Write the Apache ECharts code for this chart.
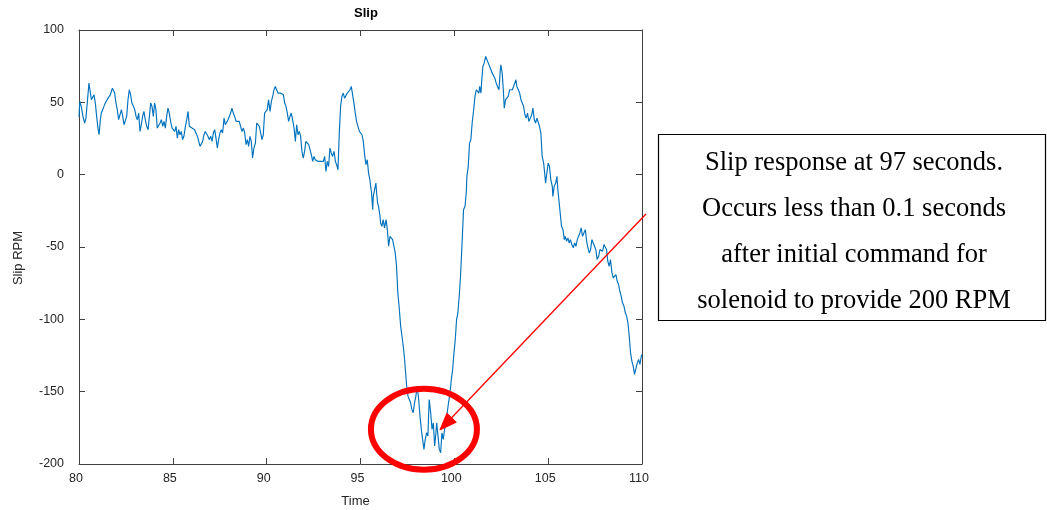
<!DOCTYPE html>
<html>
<head>
<meta charset="utf-8">
<title>Slip</title>
<script src="https://cdn.jsdelivr.net/npm/echarts@6/dist/echarts.min.js"></script>
<style>
  html, body { margin: 0; padding: 0; background: #ffffff; }
  #chart { width: 1047px; height: 510px; }
</style>
</head>
<body>
<div id="chart"></div>
<script>
// Slip speed trace (time in seconds, slip in RPM)
const timeSec = [
  80.00, 80.04, 80.12, 80.21, 80.30, 80.37, 80.44, 80.53, 80.59, 80.66, 80.73, 80.80, 80.87, 80.94,
  81.01, 81.07, 81.14, 81.19, 81.26, 81.33, 81.40, 81.47, 81.55, 81.62, 81.67, 81.72, 81.78, 81.83, 81.90, 81.97,
  82.04, 82.11, 82.18, 82.26, 82.33, 82.40, 82.47, 82.54, 82.61, 82.68, 82.75, 82.82, 82.90, 82.97,
  83.04, 83.11, 83.18, 83.25, 83.32, 83.39, 83.46, 83.53, 83.61, 83.68, 83.75, 83.82, 83.89, 83.96,
  84.03, 84.10, 84.17, 84.25, 84.32, 84.39, 84.46, 84.53, 84.60, 84.67, 84.74, 84.81, 84.88, 84.96,
  85.03, 85.10, 85.17, 85.24, 85.31, 85.38, 85.45, 85.52, 85.59, 85.67, 85.74, 85.81, 85.88, 85.95,
  86.02, 86.09, 86.16, 86.23, 86.31, 86.38, 86.45, 86.52, 86.59, 86.66, 86.73, 86.80, 86.87, 86.94,
  87.02, 87.09, 87.16, 87.23, 87.30, 87.37, 87.44, 87.51, 87.58, 87.65, 87.73, 87.80, 87.87, 87.94,
  88.01, 88.08, 88.15, 88.22, 88.29, 88.37, 88.44, 88.54, 88.61, 88.68, 88.76, 88.83, 88.90, 88.97,
  89.04, 89.11, 89.18, 89.25, 89.32, 89.40, 89.47, 89.54, 89.61, 89.68, 89.75, 89.82, 89.89, 89.96,
  90.03, 90.10, 90.18, 90.25, 90.32, 90.39, 90.46, 90.53, 90.60, 90.67, 90.74, 90.82, 90.89, 90.96,
  91.03, 91.10, 91.17, 91.24, 91.31, 91.38, 91.46, 91.53, 91.60, 91.67, 91.74, 91.81, 91.88, 91.95,
  92.02, 92.09, 92.17, 92.24, 92.31, 92.38, 92.45, 92.52, 92.59, 92.66, 92.73, 92.80, 92.88, 92.95,
  93.02, 93.09, 93.16, 93.23, 93.30, 93.37, 93.44, 93.51, 93.59, 93.66, 93.73, 93.80, 93.87, 93.94,
  94.01, 94.08, 94.15, 94.23, 94.30, 94.37, 94.44, 94.51, 94.58, 94.65, 94.72, 94.79, 94.87, 94.94,
  95.01, 95.08, 95.15, 95.22, 95.29, 95.36, 95.43, 95.50, 95.54, 95.59, 95.65, 95.68, 95.75, 95.82, 95.86, 95.91, 95.96,
  96.04, 96.07, 96.14, 96.21, 96.28, 96.36, 96.43, 96.50, 96.57, 96.64, 96.71, 96.78, 96.85, 96.92, 96.99,
  97.07, 97.14, 97.21, 97.28, 97.35, 97.39, 97.46, 97.53, 97.60, 97.67, 97.74, 97.81, 97.88, 97.95,
  98.02, 98.10, 98.17, 98.24, 98.31, 98.38, 98.45, 98.52, 98.59, 98.66, 98.74, 98.81, 98.88, 98.95,
  99.02, 99.06, 99.13, 99.20, 99.27, 99.34, 99.41, 99.48, 99.55, 99.62, 99.69, 99.77, 99.84, 99.91, 99.98,
  100.05, 100.12, 100.19, 100.26, 100.33, 100.42, 100.49, 100.57, 100.64, 100.67, 100.74, 100.81, 100.88, 100.95,
  101.03, 101.10, 101.17, 101.24, 101.31, 101.35, 101.42, 101.45, 101.52, 101.59, 101.67, 101.74, 101.81, 101.88, 101.95,
  102.02, 102.09, 102.16, 102.23, 102.30, 102.38, 102.45, 102.48, 102.55, 102.62, 102.66, 102.73, 102.80, 102.87, 102.95,
  103.02, 103.09, 103.16, 103.23, 103.28, 103.33, 103.41, 103.48, 103.55, 103.62, 103.69, 103.76, 103.83, 103.90, 103.97,
  104.05, 104.12, 104.19, 104.26, 104.33, 104.40, 104.47, 104.54, 104.61, 104.68, 104.76, 104.83, 104.86, 104.93,
  105.00, 105.07, 105.14, 105.22, 105.25, 105.32, 105.40, 105.47, 105.50, 105.57, 105.64, 105.71, 105.79, 105.86, 105.91, 105.98,
  106.05, 106.12, 106.19, 106.26, 106.34, 106.41, 106.48, 106.55, 106.62, 106.69, 106.76, 106.83, 106.90, 106.98,
  107.05, 107.12, 107.19, 107.26, 107.33, 107.40, 107.47, 107.54, 107.61, 107.69, 107.76, 107.83, 107.90, 107.97,
  108.04, 108.11, 108.18, 108.25, 108.32, 108.40, 108.47, 108.54, 108.61, 108.68, 108.75, 108.82, 108.89, 108.96,
  109.04, 109.11, 109.18, 109.25, 109.32, 109.39, 109.46, 109.53, 109.60, 109.67, 109.75, 109.82, 109.89, 109.96, 110.00
];
const slipRpm = [
  40.0, 50.6, 47.2, 40.3, 35.7, 39.1, 49.5, 63.3, 63.8, 51.8, 52.9, 55.2, 49.5, 40.3,
  32.2, 27.6, 38.0, 42.6, 44.9, 47.2, 49.5, 50.6, 52.9, 51.8, 55.2, 57.5, 59.8, 58.7, 56.4, 49.5,
  44.9, 38.0, 39.1, 44.9, 40.3, 34.5, 33.4, 40.3, 51.8, 58.7, 55.2, 49.5, 47.2, 44.9,
  40.3, 38.0, 42.6, 29.9, 34.5, 40.3, 43.7, 38.0, 33.4, 31.1, 40.3, 49.5, 47.2, 40.3,
  49.5, 44.9, 32.2, 31.1, 35.7, 38.0, 33.4, 36.8, 32.2, 40.3, 46.0, 42.6, 36.8, 32.2,
  31.1, 29.9, 33.4, 25.3, 31.1, 27.6, 29.9, 24.2, 26.5, 33.4, 38.0, 43.7, 33.4, 33.4,
  32.2, 31.1, 31.1, 28.8, 26.5, 23.0, 19.6, 20.7, 23.0, 27.6, 29.9, 31.1, 26.5, 24.2,
  26.5, 23.0, 28.8, 31.1, 25.3, 18.4, 24.2, 28.8, 31.1, 28.8, 39.1, 34.5, 35.7, 38.0,
  39.1, 42.6, 46.0, 42.6, 40.3, 36.8, 35.7, 36.8, 35.7, 29.9, 32.2, 28.8, 20.7, 24.2,
  19.6, 26.5, 23.0, 11.5, 18.4, 21.9, 35.7, 36.8, 33.4, 28.8, 24.2, 27.6, 42.6, 43.7,
  44.9, 51.8, 43.7, 50.6, 54.1, 58.7, 61.0, 62.1, 56.4, 55.2, 56.4, 57.5, 55.2, 49.5,
  47.2, 42.6, 36.8, 40.3, 42.6, 38.0, 32.2, 23.0, 34.5, 27.6, 29.9, 26.5, 16.1, 11.5,
  16.1, 23.0, 23.0, 20.7, 17.3, 13.8, 9.2, 12.6, 10.3, 11.5, 9.2, 8.0, 9.2, 8.0,
  9.2, 12.6, 2.3, 9.2, 5.7, 18.4, 15.0, 12.6, 16.1, 9.2, 6.9, 3.4, 28.8, 47.2,
  54.1, 56.4, 52.9, 54.1, 56.4, 57.5, 58.7, 61.0, 55.2, 49.5, 42.6, 36.8, 35.7, 29.9,
  31.1, 27.6, 23.0, 13.8, 6.9, 10.3, 1.1, -3.5, -8.1, -12.7, -24.2, -15.0, -10.4, -5.8, -12.7, -19.6, -21.9,
  -28.8, -33.4, -35.7, -31.1, -36.8, -31.1, -38.0, -49.5, -42.6, -42.6, -44.9, -49.5, -54.1, -63.3, -81.7,
  -93.2, -104.7, -111.7, -118.6, -127.8, -134.7, -146.2, -153.1, -155.4, -157.7, -162.3, -164.6, -157.7, -153.1,
  -146.2, -155.4, -166.9, -176.1, -183.0, -189.9, -183.0, -178.4, -180.7, -155.4, -164.6, -176.1, -171.5, -187.6,
  -178.4, -171.5, -180.7, -189.9, -192.2, -178.4, -183.0, -176.1, -171.5, -164.6, -157.7, -150.8, -141.6, -134.7, -123.2,
  -113.9, -100.1, -95.5, -84.0, -70.2, -44.9, -24.2, -21.9, -11.5, -1.2, 5.7, 21.8, 24.1, 35.7,
  44.9, 54.1, 58.7, 59.8, 56.4, 61.0, 56.4, 63.3, 74.8, 77.1, 81.7, 82.8, 77.1, 78.2, 72.5,
  70.2, 71.3, 66.7, 63.3, 61.0, 58.7, 72.5, 75.9, 70.2, 56.4, 46.0, 51.8, 50.6, 54.1, 58.7,
  59.8, 58.7, 61.0, 59.8, 65.6, 61.0, 58.7, 56.4, 51.8, 49.5, 47.2, 41.4, 39.1, 42.6, 36.8,
  39.1, 41.4, 46.0, 38.0, 35.7, 39.1, 38.0, 33.3, 28.7, 12.6, 8.0, -1.2, -5.8, 1.1,
  8.0, 5.7, -3.5, -8.1, -15.0, -8.1, -5.8, -1.2, -8.1, -17.3, -26.5, -35.7, -38.0, -44.9, -42.6, -46.0,
  -43.7, -47.2, -44.9, -48.3, -50.6, -47.2, -49.5, -44.9, -46.0, -40.3, -36.8, -42.6, -41.4, -38.0,
  -46.0, -50.6, -54.1, -51.8, -44.9, -46.0, -49.5, -51.8, -58.7, -56.4, -51.8, -50.6, -52.9, -48.3,
  -47.2, -51.8, -59.9, -63.3, -58.7, -67.9, -71.4, -70.2, -69.1, -73.7, -75.9, -80.6, -84.0, -88.6,
  -90.9, -95.5, -97.8, -102.4, -111.7, -123.2, -128.9, -132.4, -138.1, -137.0, -130.1, -127.8, -131.2, -125.5, -124.3
];

// Axis ranges and tick spacing
const timeRange = [80, 110];
const timeStep = 5;
const rpmRange = [-200, 100];
const rpmStep = 50;

// Callout text and the highlighted region (data coordinates)
const noteLines = [
  'Slip response at 97 seconds.',
  'Occurs less than 0.1 seconds',
  'after initial command for',
  'solenoid to provide 200 RPM'
];
const focusCenter = [98.38, -176.0];
const arrowTip = [99.23, -176.5];

const seriesData = timeSec.map((t, i) => [t, slipRpm[i]]);

const axisColor = '#262626';
const axisLineColor = '#404040';
const sansFont = '"Liberation Sans", Arial, Helvetica, sans-serif';
const serifFont = '"Liberation Serif", "Times New Roman", serif';

function boxAxis(position, showLabels, extra) {
  return Object.assign({
    type: 'value',
    position: position,
    axisLine: { show: true, onZero: false, lineStyle: { color: axisLineColor, width: 1 } },
    axisTick: { show: true, inside: true, length: 6, lineStyle: { color: axisLineColor, width: 1 } },
    axisLabel: { show: showLabels },
    splitLine: { show: false }
  }, extra);
}

const chart = echarts.init(document.getElementById('chart'), null, { renderer: 'canvas' });

chart.setOption({
  animation: false,
  backgroundColor: '#ffffff',
  title: {
    text: 'Slip',
    left: 361,
    top: 2,
    textAlign: 'center',
    textStyle: { fontFamily: sansFont, fontSize: 13, fontWeight: 'bold', color: '#000000' }
  },
  grid: { left: 79, right: 405, top: 30, bottom: 46, containLabel: false, outerBoundsMode: 'none' },
  xAxis: [
    boxAxis('bottom', true, {
      min: timeRange[0], max: timeRange[1], interval: timeStep,
      axisLabel: {
        show: true, color: axisColor, fontFamily: sansFont, fontSize: 12.5,
        margin: 8, padding: [0, 6, 0, 0]
      },
      name: 'Time', nameLocation: 'middle', nameGap: 31,
      nameTextStyle: { fontFamily: sansFont, fontSize: 13, color: axisColor, padding: [0, 10, 0, 0] }
    }),
    boxAxis('top', false, { min: timeRange[0], max: timeRange[1], interval: timeStep })
  ],
  yAxis: [
    boxAxis('left', true, {
      min: rpmRange[0], max: rpmRange[1], interval: rpmStep,
      axisLabel: {
        show: true, color: axisColor, fontFamily: sansFont, fontSize: 12.5,
        margin: 15, padding: [0, 0, 6, 0]
      },
      name: 'Slip RPM', nameLocation: 'middle', nameGap: 54,
      nameTextStyle: { fontFamily: sansFont, fontSize: 13, color: axisColor, padding: [0, 22, 0, 0] }
    }),
    boxAxis('right', false, { min: rpmRange[0], max: rpmRange[1], interval: rpmStep })
  ],
  series: [{
    type: 'line',
    name: 'Slip',
    xAxisIndex: 0,
    yAxisIndex: 0,
    data: seriesData,
    showSymbol: false,
    symbol: 'none',
    lineStyle: { color: '#0072BD', width: 1.15 },
    z: 3
  }]
});

// Callout: circle around the dip, arrow, and note box
const c = chart.convertToPixel({ xAxisIndex: 0, yAxisIndex: 0 }, focusCenter);
const tip = chart.convertToPixel({ xAxisIndex: 0, yAxisIndex: 0 }, arrowTip);
const tail = [646, 214];
const dx = tip[0] - tail[0], dy = tip[1] - tail[1];
const len = Math.sqrt(dx * dx + dy * dy);
const ux = dx / len, uy = dy / len;
const headLen = 17, headHalf = 6.5;
const baseX = tip[0] - ux * headLen, baseY = tip[1] - uy * headLen;
const head = [
  [tip[0], tip[1]],
  [baseX - uy * headHalf, baseY + ux * headHalf],
  [baseX + uy * headHalf, baseY - ux * headHalf]
];

chart.setOption({
  graphic: [
    {
      type: 'ellipse', z: 10,
      shape: { cx: c[0], cy: c[1], rx: 53, ry: 40.5 },
      style: { fill: 'none', stroke: '#ff0000', lineWidth: 6 }
    },
    {
      type: 'line', z: 10,
      shape: { x1: tail[0], y1: tail[1], x2: baseX, y2: baseY },
      style: { stroke: '#ff0000', lineWidth: 1.3 }
    },
    {
      type: 'polygon', z: 10,
      shape: { points: head },
      style: { fill: '#ff0000', stroke: '#ff0000', lineWidth: 1 }
    },
    {
      type: 'rect', z: 10,
      shape: { x: 658.5, y: 134.5, width: 387, height: 186 },
      style: { fill: '#ffffff', stroke: '#000000', lineWidth: 1.2 }
    },
    {
      type: 'text', z: 11,
      x: 854, y: 232,
      style: {
        text: noteLines.join('\n'),
        fontFamily: serifFont, fontSize: 26.5, lineHeight: 46,
        fill: '#000000', align: 'center', verticalAlign: 'middle'
      }
    }
  ]
});
</script>
</body>
</html>
